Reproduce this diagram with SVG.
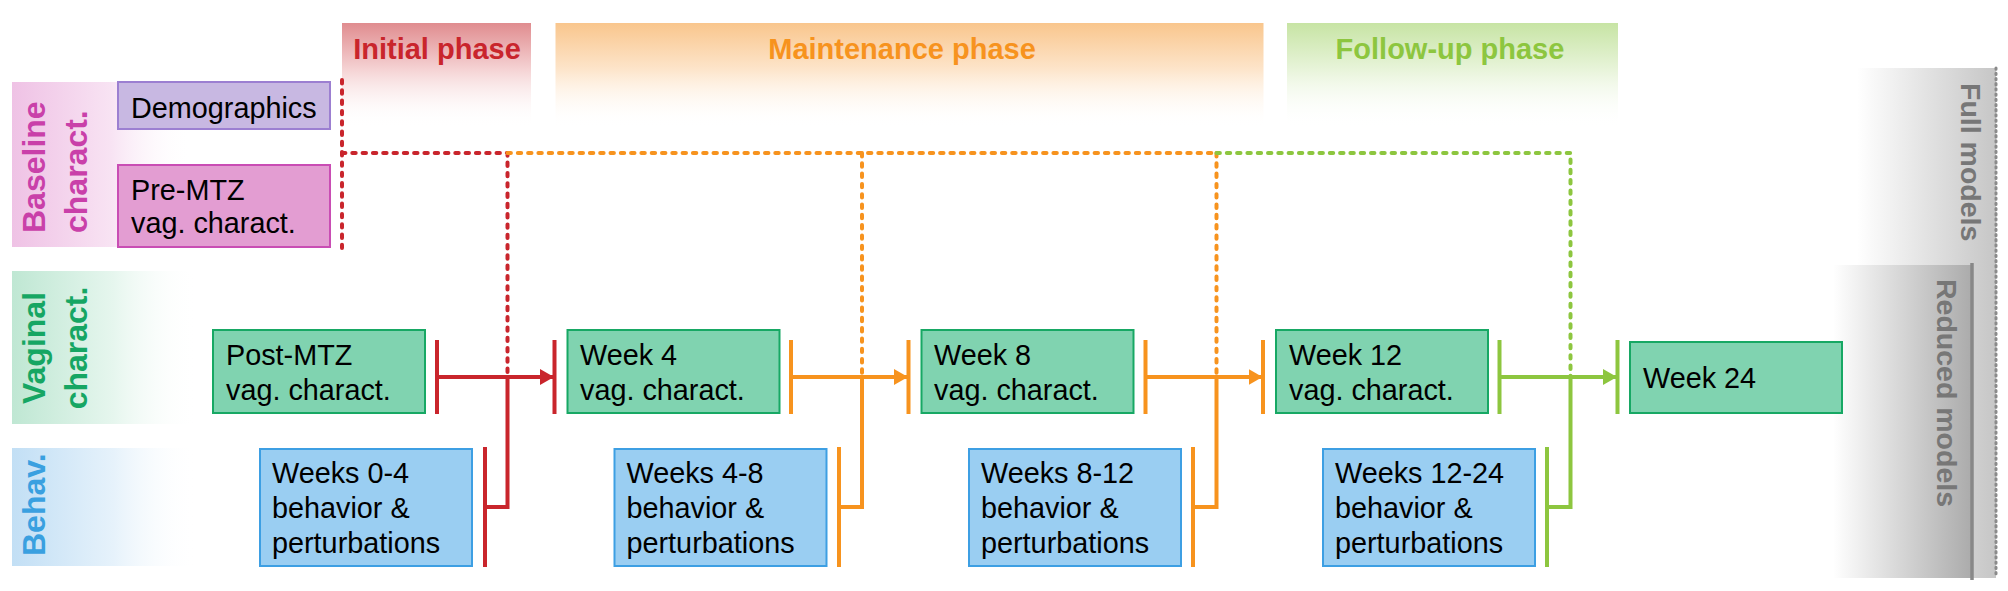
<svg xmlns="http://www.w3.org/2000/svg" width="2008" height="591" viewBox="0 0 2008 591">
<defs>
<linearGradient id="gRed" x1="0" y1="0" x2="0" y2="1"><stop offset="0" stop-color="#e08c8f"/><stop offset="0.45" stop-color="#f5d3d4"/><stop offset="1" stop-color="#ffffff" stop-opacity="0"/></linearGradient>
<linearGradient id="gOra" x1="0" y1="0" x2="0" y2="1"><stop offset="0" stop-color="#f9c68d"/><stop offset="0.45" stop-color="#fde5cb"/><stop offset="1" stop-color="#ffffff" stop-opacity="0"/></linearGradient>
<linearGradient id="gGre" x1="0" y1="0" x2="0" y2="1"><stop offset="0" stop-color="#c7e4a4"/><stop offset="0.45" stop-color="#e8f4da"/><stop offset="1" stop-color="#ffffff" stop-opacity="0"/></linearGradient>
<linearGradient id="gPink" x1="0" y1="0" x2="1" y2="0"><stop offset="0" stop-color="#efc2e5"/><stop offset="0.55" stop-color="#f8e3f3"/><stop offset="1" stop-color="#ffffff" stop-opacity="0"/></linearGradient>
<linearGradient id="gMint" x1="0" y1="0" x2="1" y2="0"><stop offset="0" stop-color="#bfe7d3"/><stop offset="0.55" stop-color="#e6f6ee"/><stop offset="1" stop-color="#ffffff" stop-opacity="0"/></linearGradient>
<linearGradient id="gSky" x1="0" y1="0" x2="1" y2="0"><stop offset="0" stop-color="#c2dff5"/><stop offset="0.55" stop-color="#e6f2fb"/><stop offset="1" stop-color="#ffffff" stop-opacity="0"/></linearGradient>
<linearGradient id="gGray1" x1="0" y1="0" x2="1" y2="0"><stop offset="0" stop-color="#ffffff"/><stop offset="1" stop-color="#c6c6c6"/></linearGradient>
<linearGradient id="gGray2" x1="0" y1="0" x2="1" y2="0"><stop offset="0" stop-color="#ffffff"/><stop offset="1" stop-color="#ababab"/></linearGradient>
<marker id="aRed" viewBox="0 0 14 16" refX="14" refY="8" markerWidth="14" markerHeight="16" markerUnits="userSpaceOnUse" orient="auto"><path d="M0,0 L14,8 L0,16 Z" fill="#c9252c"/></marker>
<marker id="aOra" viewBox="0 0 14 16" refX="14" refY="8" markerWidth="14" markerHeight="16" markerUnits="userSpaceOnUse" orient="auto"><path d="M0,0 L14,8 L0,16 Z" fill="#f7931e"/></marker>
<marker id="aGre" viewBox="0 0 14 16" refX="14" refY="8" markerWidth="14" markerHeight="16" markerUnits="userSpaceOnUse" orient="auto"><path d="M0,0 L14,8 L0,16 Z" fill="#8dc63f"/></marker>
</defs>
<style>
text { font-family: "Liberation Sans", Arial, Helvetica, sans-serif; }
.t { font-size: 28.8px; fill: #000; }
.ph { font-size: 29px; font-weight: bold; text-anchor: middle; }
.side { font-size: 32px; font-weight: bold; }
.gray { font-size: 28.5px; font-weight: bold; fill: #777777; }
.vag { fill: #80d3b0; stroke: #17a864; stroke-width: 2; }
.beh { fill: #9acef2; stroke: #3d9fe3; stroke-width: 2; }
.sol { fill: none; stroke-width: 4; }
.dot { fill: none; stroke-width: 4; stroke-linecap: round; stroke-dasharray: 3.4 6.9; }
.red { stroke: #c9252c; }
.ora { stroke: #f7931e; }
.gre { stroke: #8dc63f; }
</style>

<g id="phase-initial">
<rect x="342" y="23" width="189" height="104" fill="url(#gRed)"/>
<text class="ph" x="437" y="59" fill="#c9252c">Initial phase</text>
</g>
<g id="phase-maintenance">
<rect x="555.5" y="23" width="708" height="104" fill="url(#gOra)"/>
<text class="ph" x="902" y="59" fill="#f7931e">Maintenance phase</text>
</g>
<g id="phase-followup">
<rect x="1287" y="23" width="331" height="104" fill="url(#gGre)"/>
<text class="ph" x="1450" y="59" fill="#8dc63f">Follow-up phase</text>
</g>

<g id="label-baseline">
<rect x="12" y="82" width="180" height="165" fill="url(#gPink)"/>
<text class="side" fill="#c940a9" transform="translate(45,233) rotate(-90)">Baseline</text>
<text class="side" fill="#c940a9" transform="translate(87,233) rotate(-90)">charact.</text>
</g>
<g id="label-vaginal">
<rect x="12" y="271" width="185" height="153" fill="url(#gMint)"/>
<text class="side" fill="#16a663" text-anchor="middle" transform="translate(45,348) rotate(-90)">Vaginal</text>
<text class="side" fill="#16a663" text-anchor="middle" transform="translate(87,348) rotate(-90)">charact.</text>
</g>
<g id="label-behav">
<rect x="12" y="448" width="185" height="118" fill="url(#gSky)"/>
<text class="side" fill="#3aa0e0" transform="translate(45,556) rotate(-90)">Behav.</text>
</g>

<g id="label-full-models">
<rect x="1857" y="68" width="139" height="510" fill="url(#gGray1)"/>
<text class="gray" transform="translate(1961,83) rotate(90)">Full models</text>
</g>
<g id="label-reduced-models">
<rect x="1833" y="265" width="139" height="313" fill="url(#gGray2)"/>
<text class="gray" transform="translate(1937,279) rotate(90)">Reduced models</text>
</g>

<g id="demographics">
<rect x="118" y="82" width="212" height="47" fill="#c8b8e2" stroke="#9c7fd1" stroke-width="2"/>
<text class="t" x="131" y="118">Demographics</text>
</g>
<g id="pre-mtz">
<rect x="118" y="165" width="212" height="82" fill="#e39dd2" stroke="#c94db4" stroke-width="2"/>
<text class="t" x="131" y="200">Pre-MTZ</text>
<text class="t" x="131" y="233">vag. charact.</text>
</g>

<g id="post-mtz">
<rect class="vag" x="213" y="330" width="212" height="83"/>
<text class="t" x="226" y="365">Post-MTZ</text>
<text class="t" x="226" y="400">vag. charact.</text>
</g>
<g id="week4">
<rect class="vag" x="567.5" y="330" width="212" height="83"/>
<text class="t" x="580" y="365">Week 4</text>
<text class="t" x="580" y="400">vag. charact.</text>
</g>
<g id="week8">
<rect class="vag" x="921.5" y="330" width="212" height="83"/>
<text class="t" x="934" y="365">Week 8</text>
<text class="t" x="934" y="400">vag. charact.</text>
</g>
<g id="week12">
<rect class="vag" x="1276" y="330" width="212" height="83"/>
<text class="t" x="1289" y="365">Week 12</text>
<text class="t" x="1289" y="400">vag. charact.</text>
</g>
<g id="week24">
<rect class="vag" x="1630" y="342" width="212" height="71"/>
<text class="t" x="1643" y="388">Week 24</text>
</g>

<g id="weeks0-4">
<rect class="beh" x="260" y="449" width="212" height="117"/>
<text class="t" x="272" y="483">Weeks 0-4</text>
<text class="t" x="272" y="518">behavior &amp;</text>
<text class="t" x="272" y="553">perturbations</text>
</g>
<g id="weeks4-8">
<rect class="beh" x="614.5" y="449" width="212" height="117"/>
<text class="t" x="626.5" y="483">Weeks 4-8</text>
<text class="t" x="626.5" y="518">behavior &amp;</text>
<text class="t" x="626.5" y="553">perturbations</text>
</g>
<g id="weeks8-12">
<rect class="beh" x="969" y="449" width="212" height="117"/>
<text class="t" x="981" y="483">Weeks 8-12</text>
<text class="t" x="981" y="518">behavior &amp;</text>
<text class="t" x="981" y="553">perturbations</text>
</g>
<g id="weeks12-24">
<rect class="beh" x="1323" y="449" width="212" height="117"/>
<text class="t" x="1335" y="483">Weeks 12-24</text>
<text class="t" x="1335" y="518">behavior &amp;</text>
<text class="t" x="1335" y="553">perturbations</text>
</g>

<g id="connectors">
<path class="dot red" d="M342,80 V248"/>
<path class="dot red" d="M342,153 H507.5 V377"/>
<path class="dot ora" d="M507.5,153 H1216.5"/>
<path class="dot ora" d="M862,153 V377"/>
<path class="dot ora" d="M1216.5,153 V377"/>
<path class="dot gre" d="M1216.5,153 H1570.5 V377"/>
<path class="sol red" d="M437,340 V414 M554.5,340 V414 M485,447 V567"/>
<path class="sol red" d="M437,377 H554" marker-end="url(#aRed)"/>
<path class="sol red" d="M507.5,377 V507 H485"/>
<path class="sol ora" d="M791,340 V414 M908.5,340 V414 M839,447 V567"/>
<path class="sol ora" d="M791,377 H908" marker-end="url(#aOra)"/>
<path class="sol ora" d="M862,377 V507 H839"/>
<path class="sol ora" d="M1145.5,340 V414 M1263,340 V414 M1193,447 V567"/>
<path class="sol ora" d="M1145.5,377 H1262.5" marker-end="url(#aOra)"/>
<path class="sol ora" d="M1216.5,377 V507 H1193"/>
<path class="sol gre" d="M1499.5,340 V414 M1617.5,340 V414 M1547,447 V567"/>
<path class="sol gre" d="M1499.5,377 H1617" marker-end="url(#aGre)"/>
<path class="sol gre" d="M1570.5,377 V507 H1547"/>
<path d="M1996,68 V576" fill="none" stroke="#8a8a8a" stroke-width="3" stroke-linecap="round" stroke-dasharray="1.3 3.9"/>
<path d="M1972,263 V580" fill="none" stroke="#888888" stroke-width="3.5"/>
</g>
</svg>
